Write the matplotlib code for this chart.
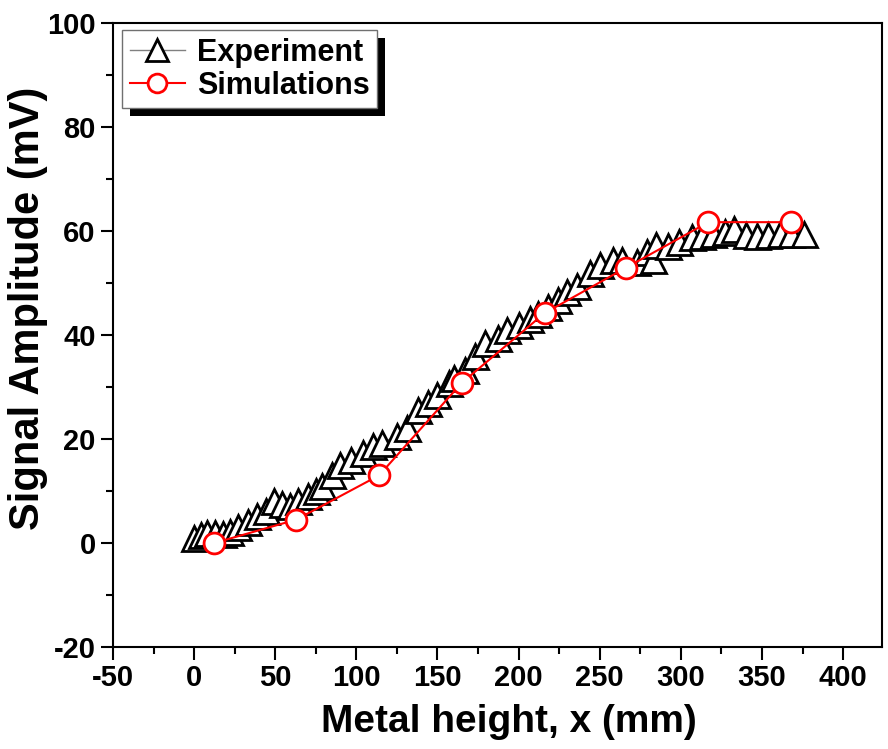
import matplotlib
matplotlib.use("Agg")
import matplotlib.pyplot as plt
from matplotlib.patches import Rectangle
from matplotlib.ticker import MultipleLocator

plt.rcParams['font.family'] = ['Liberation Sans', 'DejaVu Sans']
plt.rcParams['font.weight'] = 'bold'
plt.rcParams['axes.unicode_minus'] = False

# experiment (triangles)
exp_x = [0, 4, 8, 13, 18, 22, 27, 33, 39, 44, 49, 54, 59, 64, 70, 75, 79, 85,
         90, 97, 104, 110, 116, 125, 131, 138, 144, 150, 157, 160, 167, 173,
         179, 187, 193, 200, 207, 212, 218, 224, 230, 236, 244, 250, 258, 264,
         273, 279, 283, 285, 292, 299, 307, 313, 320, 327, 333, 340, 347, 354,
         361, 368, 376]
exp_y = [1.0, 1.5, 2.0, 2.0, 1.8, 2.2, 3.0, 4.0, 5.2, 6.2, 8.1, 7.5, 7.2, 8.1,
         9.1, 10.0, 11.0, 13.0, 15.0, 16.0, 17.4, 18.7, 19.3, 20.6, 22.2, 25.5,
         27.0, 28.4, 30.8, 31.8, 33.3, 36.0, 38.5, 39.5, 40.9, 42.0, 43.0, 44.0,
         45.3, 46.8, 48.2, 49.5, 52.0, 53.4, 54.4, 54.4, 54.0, 55.9, 54.5, 57.4,
         57.2, 57.8, 58.8, 59.0, 59.5, 59.8, 60.3, 59.2, 59.0, 59.3, 59.5, 59.5,
         59.5]

# simulations (circles)
sim_x = [12.5, 63, 114, 165, 216, 266, 317, 368]
sim_y = [0.0, 4.5, 13.0, 30.8, 44.2, 52.9, 61.7, 61.7]

fig = plt.figure(figsize=(8.88, 7.49), dpi=100)
ax = fig.add_axes([113 / 888, 1 - 647 / 749, 769 / 888, 624 / 749])

ax.plot(exp_x, exp_y, color='#808080', lw=1, marker='^', ms=18,
        mfc='white', mec='black', mew=2, label='Experiment')
ax.plot(sim_x, sim_y, color='red', lw=1.5, marker='o', ms=15,
        mfc='white', mec='red', mew=2, label='Simulations')

ax.set_xlim(-50, 424)
ax.set_ylim(-20, 100)
ax.xaxis.set_major_locator(MultipleLocator(50))
ax.xaxis.set_minor_locator(MultipleLocator(25))
ax.yaxis.set_major_locator(MultipleLocator(20))
ax.yaxis.set_minor_locator(MultipleLocator(10))
ax.tick_params(which='both', direction='out', width=1.5, labelsize=21,
               top=False, right=False)
ax.tick_params(which='major', length=9)
ax.tick_params(which='minor', length=5)
for s in ax.spines.values():
    s.set_linewidth(1.5)

ax.set_xlabel('Metal height, x (mm)', fontsize=28, fontweight='bold')
ax.set_ylabel('Signal Amplitude (mV)', fontsize=30, fontweight='bold')
ax.xaxis.set_label_coords(0.515, -0.092)
ax.yaxis.set_label_coords(-0.084, 0.543)

leg = ax.legend(loc='upper left', bbox_to_anchor=(122 / 888, 1 - 30 / 749),
                bbox_transform=fig.transFigure, borderaxespad=0,
                fancybox=False, edgecolor='#707070', framealpha=1,
                prop={'size': 22, 'weight': 'bold'}, handlelength=1.8,
                handletextpad=0.4, borderpad=0.25, labelspacing=0.1,
                markerscale=0.9)
leg.get_frame().set_linewidth(1.0)
leg.set_zorder(6)

# black drop shadow behind legend
fig.canvas.draw()
bb = leg.get_window_extent()
inv = ax.transAxes.inverted()
(x0, y0), (x1, y1) = inv.transform([[bb.x0 + 8, bb.y0 - 8], [bb.x1 + 8, bb.y1 - 8]])
ax.add_patch(Rectangle((x0, y0), x1 - x0, y1 - y0, transform=ax.transAxes,
                       facecolor='black', edgecolor='none', zorder=5.5,
                       clip_on=False))

fig.savefig('out.png', dpi=100)
